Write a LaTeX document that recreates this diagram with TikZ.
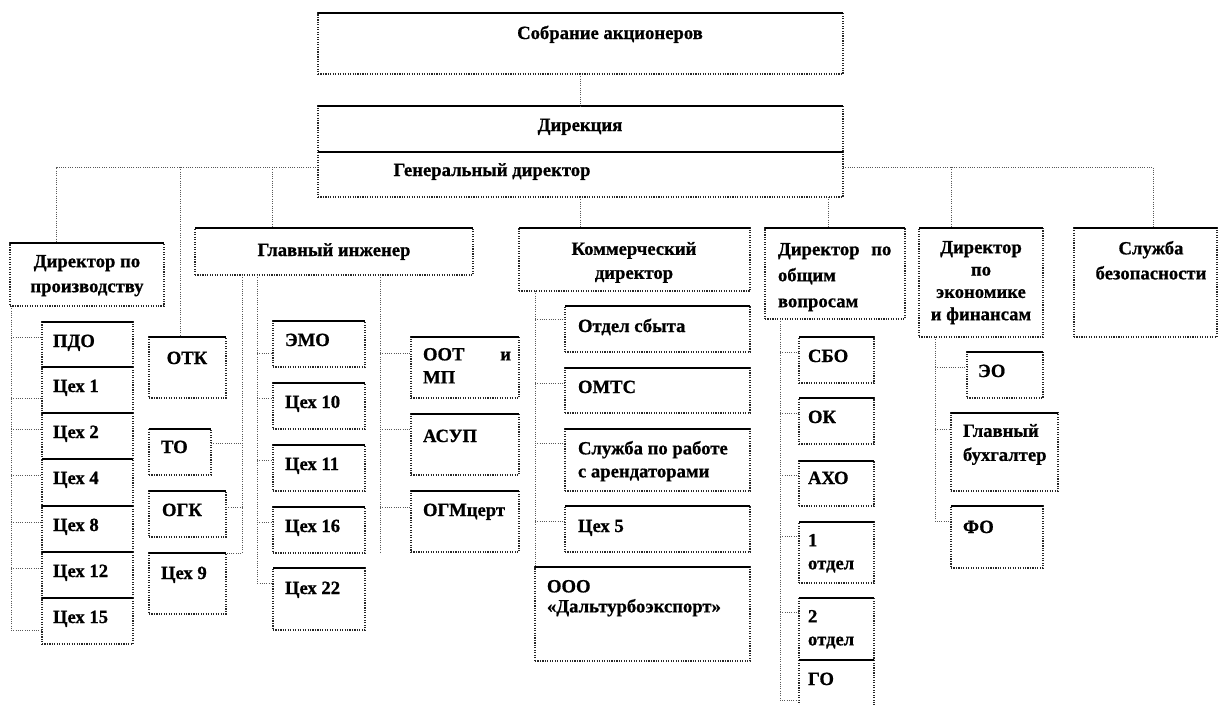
\documentclass[tikz,border=0pt]{standalone}
\usepackage{fontspec}
\setmainfont{Liberation Serif}[BoldFeatures={FakeBold=0.8}]
\newcommand\bx[5]{%
  \node[box, minimum width={(#4-#2)*0.75pt}, minimum height={(#5-#3)*0.75pt}] (#1) at ({(#2+#4)/2},{(#3+#5)/2}) {};
  \draw[topedge] (#1.north west) -- (#1.north east);}
\begin{document}
\begin{tikzpicture}[x=0.75pt,y=-0.75pt,
  box/.style={rectangle, inner sep=0pt, outer sep=0pt, draw=black!85, line width=0.85pt, densely dotted},
  topedge/.style={draw=black, line width=0.9pt, solid},
  conn/.style={draw=black!65, line width=0.7pt, densely dotted},
  ft/.style={inner sep=0pt, outer sep=0pt, font=\bfseries\fontsize{14}{#1}\selectfont},
  ft/.default=18.75pt,
  txt/.style={ft, anchor=base west},
  txtc/.style={ft, anchor=base},
  mtxt/.style={ft=#1, anchor=north, align=center},
  mtxt/.default=18.75pt,
  ltxt/.style={ft=#1, anchor=north west, align=left},
  ltxt/.default=18.75pt]
\path[use as bounding box] (0,0) rectangle (1219,704);
\clip (0,0) rectangle (1219,704);

% boxes
\bx{sobr}{318}{13}{843}{74}
\bx{dir}{318}{106}{843}{152}
\bx{gen}{318}{152}{843}{197}
\bx{dpr}{10}{243}{164}{306}
\bx{pdo}{42}{322}{133}{367}
\bx{c1}{42}{367}{133}{413}
\bx{c2}{42}{413}{133}{459}
\bx{c4}{42}{459}{133}{506}
\bx{c8}{42}{506}{133}{552}
\bx{c12}{42}{552}{133}{598}
\bx{c15}{42}{598}{133}{644}
\bx{otk}{149}{337}{226}{398}
\bx{tob}{149}{429}{211}{475}
\bx{ogk}{149}{491}{226}{537}
\bx{c9}{149}{553}{226}{614}
\bx{gi}{195}{228}{473}{275}
\bx{emo}{273}{321}{365}{367}
\bx{c10}{273}{383}{365}{429}
\bx{c11}{273}{445}{365}{491}
\bx{c16}{273}{507}{365}{553}
\bx{c22}{273}{568}{365}{630}
\bx{oot}{411}{337}{519}{398}
\bx{asup}{411}{414}{519}{475}
\bx{ogm}{411}{491}{519}{552}
\bx{kd}{519}{228}{750}{291}
\bx{ots}{565}{306}{750}{352}
\bx{omts}{565}{368}{750}{413}
\bx{sluz}{565}{429}{750}{491}
\bx{c5}{565}{506}{750}{552}
\bx{ooo}{535}{567}{750}{661}
\bx{dov}{765}{228}{905}{319}
\bx{sbo}{799}{337}{874}{383}
\bx{ok}{799}{398}{874}{444}
\bx{axo}{799}{461}{874}{506}
\bx{oa}{799}{522}{874}{583}
\bx{ob}{799}{598}{874}{660}
\bx{go}{799}{660}{874}{712}
\bx{dek}{919}{228}{1043}{337}
\bx{eo}{967}{352}{1043}{398}
\bx{gb}{951}{413}{1058}{491}
\bx{fo}{951}{506}{1043}{568}
\bx{sb}{1074}{228}{1217}{337}

% texts
\node[txtc] (tsobr) at (610,39) {Собрание акционеров};
\node[txtc] (tdir) at (580,131) {Дирекция};
\node[txtc] (tgen) at (492,176) {Генеральный директор};
\node[mtxt] (tdpr) at (87,255) {Директор по\\производству};
\node[txt] (tpdo) at (53,347) {ПДО};
\node[txt] (tc1) at (53,392) {Цех 1};
\node[txt] (tc2) at (53,438) {Цех 2};
\node[txt] (tc4) at (53,484) {Цех 4};
\node[txt] (tc8) at (53,531) {Цех 8};
\node[txt] (tc12) at (53,577) {Цех 12};
\node[txt] (tc15) at (53,623) {Цех 15};
\node[txtc] (totk) at (187,364) {ОТК};
\node[txt] (ttob) at (161,453) {ТО};
\node[txt] (togk) at (162,516) {ОГК};
\node[txt] (tc9) at (161,579) {Цех 9};
\node[txtc] (tgi) at (334,256) {Главный инженер};
\node[txt] (temo) at (285,346) {ЭМО};
\node[txt] (tc10) at (285,408) {Цех 10};
\node[txt] (tc11) at (285,470) {Цех 11};
\node[txt] (tc16) at (285,532) {Цех 16};
\node[txt] (tc22) at (285,594) {Цех 22};
\node[ltxt=17.25pt, text width=66pt] (toot) at (423,348) {ООТ\hfill и\\МП};
\node[txt] (tasup) at (423,442) {АСУП};
\node[txt] (togm) at (423,516) {ОГМцерт};
\node[mtxt=18pt] (tkd) at (634,242) {Коммерческий\\директор};
\node[txt] (tots) at (578,332) {Отдел сбыта};
\node[txt] (tomts) at (578,393) {ОМТС};
\node[ltxt=17.25pt] (tsluz) at (578,441) {Служба по работе\\с арендаторами};
\node[txt] (tc5) at (578,532) {Цех 5};
\node[ltxt=15pt] (tooo) at (547,580) {ООО\\«Дальтурбоэкспорт»};
\node[ltxt=19.5pt, text width=85pt] (tdov) at (778,243) {Директор\hfill по\\общим\\вопросам};
\node[txt] (tsbo) at (808,362) {СБО};
\node[txt] (tok) at (808,423) {ОК};
\node[txt] (taxo) at (808,484) {АХО};
\node[ltxt=17.25pt] (toa) at (808,534) {1\\отдел};
\node[ltxt=17.25pt] (tob2) at (808,610) {2\\отдел};
\node[txt] (tgo) at (808,685) {ГО};
\node[mtxt=16.75pt] (tdek) at (981,241) {Директор\\по\\экономике\\и финансам};
\node[txt] (teo) at (978,377) {ЭО};
\node[ltxt=18pt] (tgb) at (963,424) {Главный\\бухгалтер};
\node[txt] (tfo) at (963,533) {ФО};
\node[mtxt] (tsb) at (1151,241) {Служба\\безопасности};

% connectors
\draw[conn] (sobr.south) -- (dir.north);
\draw[conn] (gen.west |- 0,167) -- (56.5,167) -- (56.5,0 |- dpr.north);
\draw[conn] (180,167) -- (180,0 |- otk.north);
\draw[conn] (272,167) -- (272,0 |- gi.north);
\draw[conn] (gen.east |- 0,167) -- (1153,167) -- (1153,0 |- sb.north);
\draw[conn] (951,167) -- (951,0 |- dek.north);
\draw[conn] (gen.south) -- (gen.south |- kd.north);
\draw[conn] (828,0 |- gen.south) -- (828,0 |- dov.north);

\draw[conn] (11,0 |- dpr.south) -- (11,630) -- (c15.west |- 0,630);
\foreach \n/\y in {pdo/337, c1/398, c2/429, c4/475, c8/522, c12/568}
  {\draw[conn] (11,\y) -- (\n.west |- 0,\y);}

\draw[conn] (242,0 |- gi.south) -- (242,0 |- c9.north) -- (c9.north east);
\draw[conn] (tob.east |- 0,443) -- (242,443);
\draw[conn] (ogk.east |- 0,507) -- (242,507);
\draw[conn] (257,0 |- gi.south) -- (257,583) -- (c22.west |- 0,583);
\foreach \n/\y in {emo/353, c10/398, c11/460, c16/522}
  {\draw[conn] (257,\y) -- (\n.west |- 0,\y);}
\draw[conn] (380,0 |- gi.south) -- (380,552);
\foreach \n/\y in {oot/353, asup/429, ogm/507}
  {\draw[conn] (380,\y) -- (\n.west |- 0,\y);}

\draw[conn] (535,0 |- kd.south) -- (ooo.north west);
\foreach \n/\y in {ots/319, omts/383, sluz/443, c5/521}
  {\draw[conn] (535,\y) -- (\n.west |- 0,\y);}

\draw[conn] (780,0 |- dov.south) -- (780,700) -- (go.west |- 0,700);
\foreach \n/\y in {sbo/352, ok/413, axo/475, oa/536, ob/612}
  {\draw[conn] (780,\y) -- (\n.west |- 0,\y);}

\draw[conn] (935,0 |- dek.south) -- (935,521) -- (fo.west |- 0,521);
\foreach \n/\y in {eo/367, gb/429}
  {\draw[conn] (935,\y) -- (\n.west |- 0,\y);}
\end{tikzpicture}
\end{document}
